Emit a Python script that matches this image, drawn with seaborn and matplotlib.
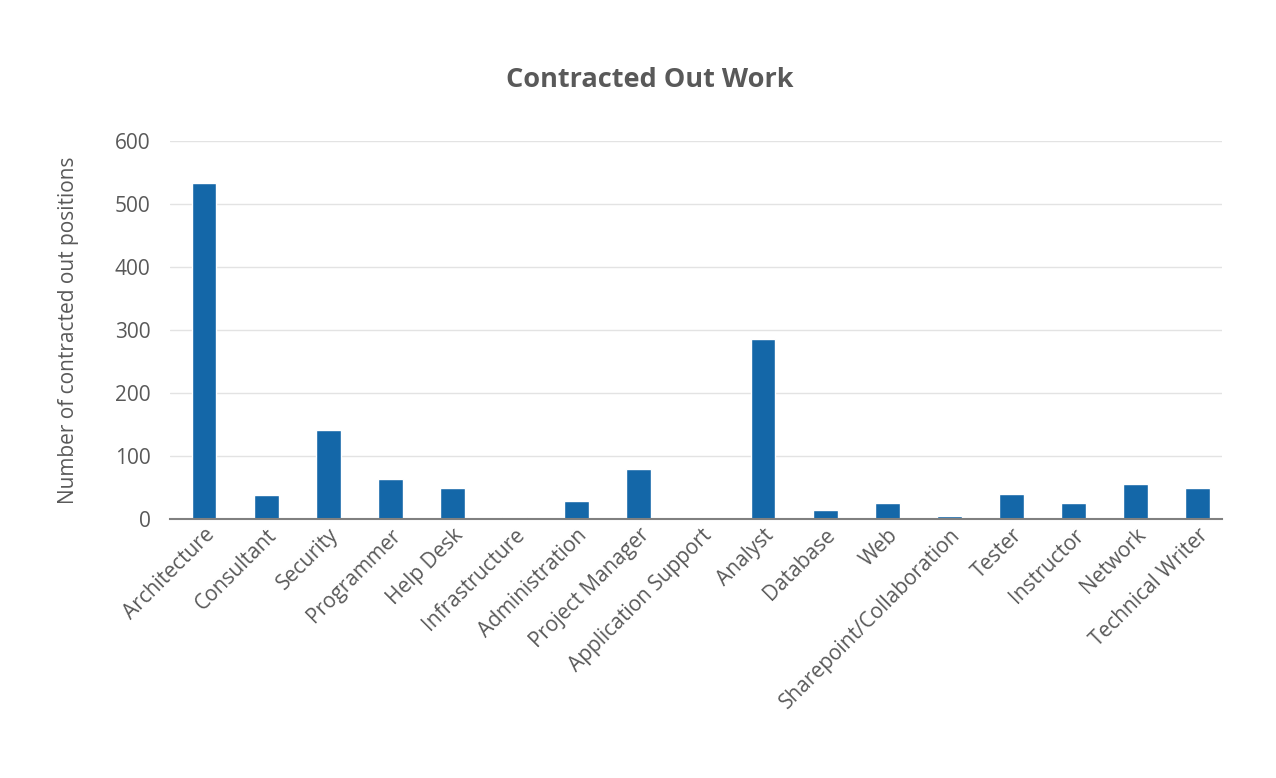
import matplotlib
matplotlib.use("Agg")
import matplotlib.pyplot as plt
import seaborn as sns
import pandas as pd

categories = ["Architecture", "Consultant", "Security", "Programmer", "Help Desk",
              "Infrastructure", "Administration", "Project Manager", "Application Support",
              "Analyst", "Database", "Web", "Sharepoint/Collaboration", "Tester",
              "Instructor", "Network", "Technical Writer"]
values = [533, 38, 141, 64, 49, 3, 28, 79, 0, 285, 15, 25, 4, 39, 26, 55, 49]
yticks = [0, 100, 200, 300, 400, 500, 600]

sns.set_theme(style="white")
plt.rcParams['font.family'] = ['Open Sans', 'DejaVu Sans']

df = pd.DataFrame({"category": categories, "value": values})

fig = plt.figure(figsize=(12.76, 7.78), dpi=100)
ax = fig.add_axes([170/1276, 1 - 519/778, (1222-170)/1276, (519-141)/778])
sns.barplot(data=df, x="category", y="value", color="#1467A8", width=0.4,
            saturation=1, ax=ax, zorder=3)

ax.set_ylim(0, 600)
ax.set_yticks(yticks)
ax.set_xlim(-0.547, len(categories) - 1 + 0.39)
ax.yaxis.grid(True, color="#e3e3e3", linewidth=1, zorder=0)
for s in ["top", "right", "left"]:
    ax.spines[s].set_visible(False)
ax.spines["bottom"].set_color("#808080")
ax.spines["bottom"].set_linewidth(1.5)
ax.spines["bottom"].set_zorder(4)

ax.tick_params(axis="y", labelsize=15, colors="#595959", length=0, pad=14)
ax.tick_params(axis="x", labelsize=15, colors="#595959", length=0, pad=4)
plt.setp(ax.get_xticklabels(), rotation=45, ha="right", rotation_mode="anchor")

ax.set_xlabel("")
ax.set_ylabel("Number of contracted out positions", fontsize=15, color="#595959", labelpad=26)
fig.text(650/1276, 1 - 80/778, "Contracted Out Work", ha="center", va="center",
         fontsize=19.5, fontweight="bold", color="#595959")

fig.savefig("out.png", dpi=100, facecolor="white")
